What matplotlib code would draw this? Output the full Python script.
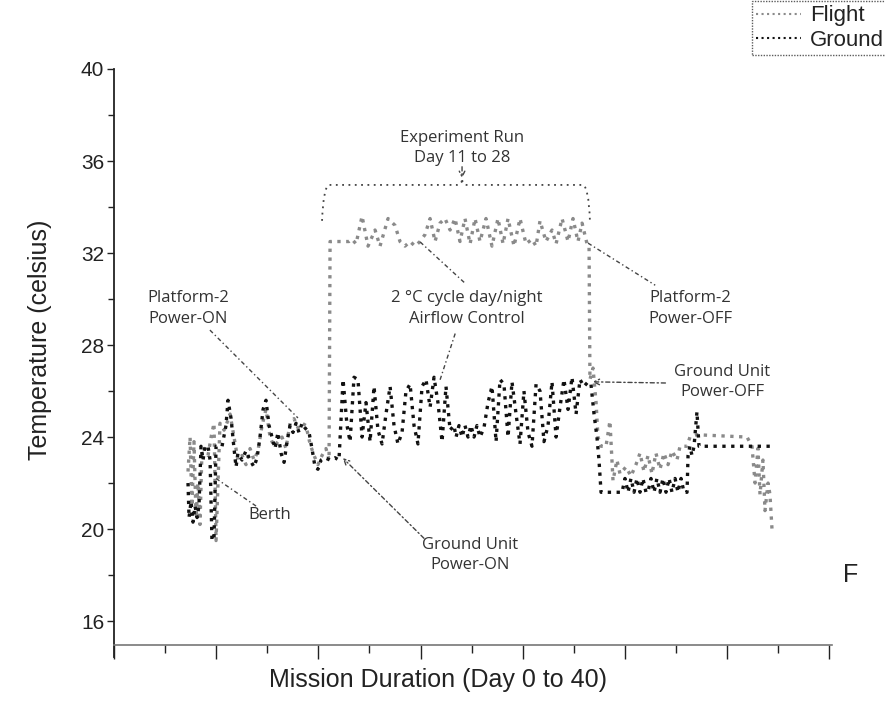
import matplotlib
matplotlib.use("Agg")
import matplotlib.pyplot as plt
import numpy as np
from matplotlib.path import Path
from matplotlib.patches import PathPatch

# ---- data (days, celsius) ----
ground_day = [0.00, 0.07, 0.21, 0.34, 0.48, 0.62, 0.75, 0.89, 1.03, 1.16, 1.37, 1.51, 1.64, 1.78, 1.92,
              2.33, 2.60, 2.74, 2.95, 3.15, 3.29, 3.42, 3.70, 3.97, 4.25, 4.52, 4.73, 4.93, 5.14, 5.34,
              5.55, 5.75, 5.96, 6.16, 6.37, 6.58, 6.78, 6.99, 7.19, 7.40, 7.60, 7.81, 8.01, 8.29, 8.49,
              8.70, 8.90, 9.11, 9.38, 9.73, 10.07, 10.34, 10.62, 10.89, 11.10, 11.37, 11.64, 11.92,
              12.19, 12.47, 12.74, 13.01, 13.29, 13.56, 13.84, 14.11, 14.38, 14.66, 14.93, 15.21,
              15.48, 15.75, 16.03, 16.30, 16.58, 16.85, 17.12, 17.40, 17.67, 17.95, 18.22, 18.36,
              18.56, 18.77, 18.97, 19.18, 19.38, 19.59, 19.79, 20.00, 20.27, 20.55, 20.82, 21.10,
              21.37, 21.64, 21.92, 22.19, 22.47, 22.74, 23.01, 23.29, 23.56, 23.84, 24.11, 24.38,
              24.66, 24.93, 25.21, 25.48, 25.75, 26.03, 26.30, 26.58, 26.85, 27.12, 27.40, 27.60,
              27.81, 28.01, 28.15, 28.29, 29.73, 29.93, 30.14, 30.34, 30.55, 30.75, 30.96, 31.16,
              31.37, 31.50, 31.71, 31.92, 32.12, 32.33, 32.53, 32.74, 32.95, 33.15, 33.36, 33.56,
              33.77, 33.97, 34.18, 34.25, 34.38, 34.52, 34.66, 34.86, 35.00, 39.86]
ground_temp = [22.0, 20.5, 21.2, 20.3, 21.0, 20.5, 21.0, 23.6, 23.0, 23.6, 23.6, 23.0, 19.5, 19.6, 23.6,
               23.6, 24.5, 25.6, 24.8, 23.5, 22.7, 23.3, 23.0, 23.4, 23.0, 22.7, 23.1, 24.0, 25.2, 25.6,
               24.5, 24.0, 23.5, 24.2, 23.3, 22.9, 23.8, 24.5, 24.2, 24.6, 24.2, 24.6, 24.4, 24.2, 23.5,
               22.7, 22.6, 23.0, 23.1, 23.0, 23.1, 23.0, 26.5, 24.5, 23.8, 26.6, 26.5, 24.0,
               25.5, 23.8, 26.2, 24.3, 23.7, 25.0, 26.2, 24.5, 23.7, 24.2, 26.0, 26.3,
               24.5, 23.7, 26.2, 26.5, 25.3, 26.6, 25.5, 23.8, 26.2, 24.3, 24.5, 24.0,
               24.5, 24.0, 24.5, 24.0, 24.5, 24.0, 24.5, 24.0, 24.4, 25.5, 26.2, 23.8,
               26.5, 26.3, 24.0, 26.4, 25.0, 23.7, 26.0, 24.2, 23.6, 26.3, 26.0, 23.8,
               24.5, 26.4, 24.0, 25.3, 26.5, 25.2, 26.6, 25.0, 26.5, 26.2, 26.4, 26.3,
               25.0, 24.0, 23.0, 21.6, 21.6, 22.2, 21.6, 22.2, 21.6, 22.2, 21.6, 22.2,
               21.6, 21.6, 22.2, 21.6, 22.2, 21.6, 22.2, 21.6, 22.2, 21.6, 22.2, 21.6,
               22.2, 21.6, 21.6, 23.2, 23.6, 23.2, 23.6, 25.1, 23.6, 23.6]

flight_day = [0.00, 0.14, 0.27, 0.41, 0.55, 0.68, 0.82, 0.96, 1.16, 1.37, 1.58, 1.78, 1.92, 2.05, 2.19,
              2.47, 2.60, 2.88, 3.15, 3.42, 3.70, 3.97, 4.25, 4.52, 4.79, 5.07, 5.34, 5.62, 5.89, 6.16,
              6.44, 6.71, 6.99, 7.26, 7.53, 7.81, 8.08, 8.36, 8.63, 8.90, 9.18, 9.45, 9.66, 9.73,
              11.03, 11.23, 11.51, 11.92, 12.33, 12.81, 13.15, 13.70, 14.18, 14.52, 14.86, 15.21,
              15.55, 15.89, 16.23, 16.58, 16.92, 17.26, 17.60, 17.95, 18.29, 18.63, 18.97, 19.32,
              19.66, 20.00, 20.41, 20.82, 21.23, 21.58, 21.92, 22.33, 22.74, 23.15, 23.56, 23.84,
              24.11, 24.52, 24.93, 25.21, 25.62, 26.03, 26.37, 26.71, 26.99, 27.33, 27.47, 27.53,
              27.74, 27.95, 28.08, 28.29, 28.63, 28.90, 29.11, 29.38, 29.59, 30.00, 30.34, 30.68,
              30.96, 31.23, 31.51, 31.78, 32.05, 32.33, 32.60, 32.88, 33.15, 33.49, 33.70, 34.18,
              34.38, 34.86, 38.29, 38.63, 38.84, 39.04, 39.18, 39.38, 39.52, 39.73, 39.86, 40.00]
flight_temp = [22.5, 24.0, 21.0, 23.8, 20.5, 22.0, 20.2, 23.5, 23.5, 23.2, 24.0, 24.6, 19.5, 22.0, 24.6,
               24.3, 24.5, 25.0, 24.0, 23.0, 23.2, 22.8, 23.5, 23.0, 23.4, 24.5, 25.2, 24.0, 23.6, 23.8,
               24.0, 23.5, 24.6, 24.8, 24.4, 24.6, 24.5, 23.7, 23.2, 22.8, 23.2, 23.5, 23.0, 32.5,
               32.5, 32.6, 32.4, 33.6, 32.3, 33.0, 32.3, 33.5, 33.2, 32.5, 32.3, 32.5,
               32.3, 32.5, 32.8, 33.5, 32.5, 33.3, 33.5, 33.0, 33.5, 32.5, 33.5, 32.4,
               33.5, 32.5, 33.5, 32.3, 33.5, 32.4, 33.5, 32.3, 33.5, 32.4, 32.6, 32.3,
               33.4, 32.5, 33.0, 32.4, 33.5, 32.5, 33.5, 32.5, 33.3, 32.4, 32.3, 26.5,
               27.0, 25.5, 24.0, 23.6, 23.6, 24.7, 22.1, 23.0, 22.4, 22.7, 22.3, 22.8,
               23.3, 22.5, 23.2, 22.4, 23.3, 22.6, 23.3, 22.8, 23.4, 23.0, 23.6, 23.6,
               24.0, 24.1, 24.0, 23.6, 22.0, 23.5, 21.5, 23.0, 20.8, 22.0, 21.5, 20.0]

y_ticks = [16, 20, 24, 28, 32, 36, 40]
series_names = ["Flight", "Ground"]

# ---- figure ----
plt.rcParams['font.family'] = ['Liberation Sans', 'DejaVu Sans']
fig = plt.figure(figsize=(8.85, 7.05), dpi=100)
ax = fig.add_axes([114/885, 60/705, 718/885, 576/705])

flight_line, = ax.plot(flight_day, flight_temp, color='#8a8a8a', lw=2.4, ls=':', zorder=2)
ground_line, = ax.plot(ground_day, ground_temp, color='#111111', lw=2.4, ls=':', zorder=3)

ax.set_xlim(-5.07, 44.11)
ax.set_ylim(14.96, 40)
ax.set_xticks(np.arange(-5.07, 44.2, 7.0))
ax.set_xticks(np.arange(-1.57, 44.2, 7.0), minor=True)
ax.set_xticklabels([])
ax.set_yticks(y_ticks)
ax.set_yticks(np.arange(18, 40, 4), minor=True)
ax.tick_params(axis='y', which='major', direction='out', length=5, width=1.0, labelsize=15,
               colors='#222222', pad=2)
ax.tick_params(axis='y', which='minor', direction='out', length=4, width=1.0, colors='#222222')
ax.tick_params(axis='x', which='major', direction='out', length=10, width=1.0, colors='#222222')
ax.tick_params(axis='x', which='minor', direction='out', length=6, width=1.0, colors='#222222')

for s in ['top', 'right']:
    ax.spines[s].set_visible(False)
ax.spines['left'].set_color('#222222')
ax.spines['left'].set_linewidth(1.3)
ax.spines['left'].set_bounds(14.45, 40)
ax.spines['bottom'].set_color('#777777')
ax.spines['bottom'].set_linestyle((0, (1, 1)))
ax.spines['bottom'].set_linewidth(1.2)

ax.set_xlabel("Mission Duration (Day 0 to 40)", fontsize=18, color='#222222')
ax.xaxis.set_label_coords((438 - 114) / 718, -23 / 576)
ax.set_ylabel("Temperature (celsius)", fontsize=18, color='#222222')
ax.yaxis.set_label_coords((52 - 114) / 718, (645 - 340) / 576)

# ---- annotations ----
afont = dict(family=['Open Sans', 'DejaVu Sans'], fontsize=12, color='#333333', ha='center', va='center',
             linespacing=1.38)
ax.text(18.77, 36.57, "Experiment Run\nDay 11 to 28", **afont)
ax.text(0.0, 29.6, "Platform-2\nPower-ON", **afont)
ax.text(19.1, 29.6, "2 °C cycle day/night\nAirflow Control", **afont)
ax.text(34.4, 29.6, "Platform-2\nPower-OFF", **afont)
ax.text(36.6, 26.4, "Ground Unit\nPower-OFF", **afont)
ax.text(5.6, 20.6, "Berth", **afont)
ax.text(19.3, 18.87, "Ground Unit\nPower-ON", **afont)

pstyle = dict(color='#444444', lw=1.0, ls=(0, (3, 2, 1, 2)))
def pointer(x0, y0, x1, y1, head=False):
    if head:
        ax.annotate("", xy=(x1, y1), xytext=(x0, y0),
                    arrowprops=dict(arrowstyle='->', color='#444444', lw=1.0, ls=(0, (3, 2, 1, 2)),
                                    shrinkA=0, shrinkB=0))
    else:
        ax.plot([x0, x1], [y0, y1], **pstyle)

pointer(1.5, 28.65, 7.53, 24.83)
pointer(15.9, 32.48, 19.04, 30.65)
pointer(18.3, 28.5, 17.26, 26.48)
pointer(27.4, 32.43, 32.0, 30.6)
pointer(32.7, 26.35, 27.7, 26.4, head=True)
pointer(1.92, 22.2, 4.66, 21.0)
pointer(16.16, 19.6, 10.6, 23.09, head=True)
pointer(18.77, 35.75, 18.77, 35.25, head=True)

# curly brace
bx0, bx1, bxm = 9.18, 27.53, 18.77
by_end, by_top, by_tip = 33.4, 34.96, 35.25
verts = [(bx0, by_end), (bx0 + 0.1, by_top), (bx0 + 0.5, by_top),
         (bxm - 0.3, by_top), (bxm, by_top), (bxm, by_tip), (bxm, by_top), (bxm + 0.3, by_top),
         (bx1 - 0.5, by_top), (bx1 - 0.1, by_top), (bx1, by_end)]
codes = [Path.MOVETO, Path.CURVE3, Path.CURVE3,
         Path.LINETO, Path.CURVE3, Path.CURVE3, Path.CURVE3, Path.CURVE3,
         Path.LINETO, Path.CURVE3, Path.CURVE3]
ax.add_patch(PathPatch(Path(verts, codes), fill=False, edgecolor='#444444', lw=1.3, ls=(0, (1, 2.5))))

# legend
leg = fig.legend([flight_line, ground_line], series_names, loc='upper left',
                 bbox_to_anchor=(752/885, 1 - 1/705), fontsize=16, frameon=True, fancybox=False,
                 handlelength=2.0, handletextpad=0.4, borderpad=0.2, labelspacing=0.15,
                 borderaxespad=0)
leg.get_frame().set_edgecolor('#333333')
leg.get_frame().set_linestyle((0, (1, 1)))
leg.get_frame().set_linewidth(1.0)
for h in leg.legend_handles:
    h.set_linewidth(1.5)
for t in leg.get_texts():
    t.set_color('#222222')

fig.text(843/885, 1 - 575/705, "F", fontsize=18, color='#222222', va='center', ha='left')

fig.savefig("out.png", dpi=100)
